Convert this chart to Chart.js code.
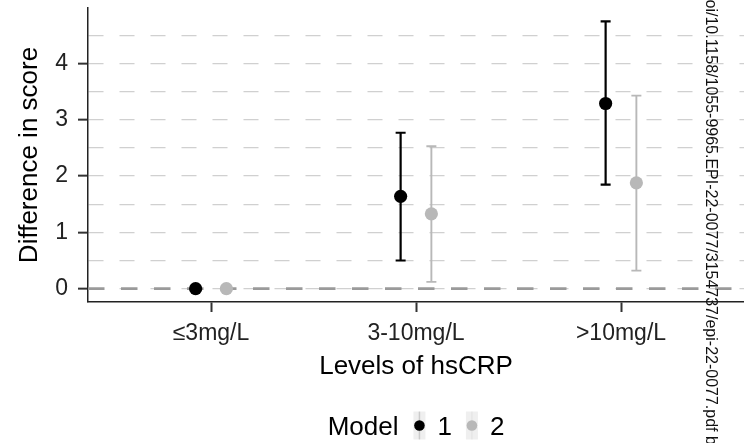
<!DOCTYPE html>
<html>
<head>
<meta charset="utf-8">
<script src="https://cdn.jsdelivr.net/npm/chart.js@4"></script>
<style>
  html, body { margin: 0; padding: 0; background: #fff; }
  canvas { display: block; }
</style>
</head>
<body>
<canvas id="chart" width="744" height="443"></canvas>
<script>
// hsCRP levels vs difference in score, two models with 95% CI

const categories = ["≤3mg/L", "3-10mg/L", ">10mg/L"];
const modelNames = ["1", "2"];

const model1Est = [0, 1.64, 3.29];
const model1Low = [0, 0.50, 1.85];
const model1High = [0, 2.77, 4.75];

const model2Est = [0, 1.33, 1.88];
const model2Low = [0, 0.12, 0.32];
const model2High = [0, 2.53, 3.43];

const yTickValues = [0, 0.5, 1, 1.5, 2, 2.5, 3, 3.5, 4, 4.5];

const FONT = "'Liberation Sans', Arial, sans-serif";
const DODGE = 0.075;

function toPoints(est, low, high, shift) {
    return categories.map((c, i) => ({ x: i + 1 + shift, y: est[i], lo: low[i], hi: high[i] }));
}

const errorBars = {
    id: "errorBars",
    beforeDatasetsDraw(chart) {
        const { ctx, chartArea, scales: { x, y } } = chart;
        ctx.save();
        // dashed reference line at zero
        const y0 = y.getPixelForValue(0);
        ctx.setLineDash([16.5, 16.5]);
        ctx.lineWidth = 2.6;
        ctx.strokeStyle = "#9a9a9a";
        ctx.beginPath();
        ctx.moveTo(chartArea.left, y0);
        ctx.lineTo(chartArea.right, y0);
        ctx.stroke();
        ctx.setLineDash([]);

        chart.data.datasets.forEach(ds => {
            ctx.strokeStyle = ds.backgroundColor;
            ctx.lineWidth = ds.errWidth;
            for (const p of ds.data) {
                const px = x.getPixelForValue(p.x);
                const top = y.getPixelForValue(p.hi);
                const bot = y.getPixelForValue(p.lo);
                ctx.beginPath();
                ctx.moveTo(px, top); ctx.lineTo(px, bot);
                ctx.moveTo(px - 5, top); ctx.lineTo(px + 5, top);
                ctx.moveTo(px - 5, bot); ctx.lineTo(px + 5, bot);
                ctx.stroke();
            }
        });
        ctx.restore();
    }
};

const bottomLegend = {
    id: "bottomLegend",
    afterDraw(chart) {
        const { ctx, chartArea } = chart;
        ctx.save();
        ctx.font = "26px " + FONT;
        ctx.textBaseline = "alphabetic";
        ctx.textAlign = "left";

        // lay out: title, then (key, label) pairs
        const wTitle = ctx.measureText("Model").width;
        const items = [];
        let pos = wTitle;
        modelNames.forEach((n, i) => {
            const kx = pos + (i === 0 ? 21 : 20);
            const lx = kx + 18;
            const w = ctx.measureText(n).width;
            items.push({ kx, lx });
            pos = lx + w;
        });
        const x0 = (chartArea.left + chartArea.right) / 2 - pos / 2;
        const base = 435, mid = 425.5;

        ctx.fillStyle = "#000";
        ctx.fillText("Model", x0, base);
        chart.data.datasets.forEach((ds, i) => {
            const kx = x0 + items[i].kx;
            ctx.fillStyle = "#efefef";
            ctx.fillRect(kx - 6, mid - 14, 12, 28);
            ctx.globalAlpha = 0.15;
            ctx.strokeStyle = ds.backgroundColor;
            ctx.lineWidth = 1.5;
            ctx.beginPath();
            ctx.moveTo(kx, mid - 14); ctx.lineTo(kx, mid + 14);
            ctx.stroke();
            ctx.globalAlpha = 1;
            ctx.fillStyle = ds.backgroundColor;
            ctx.beginPath();
            ctx.arc(kx, mid, 5.3, 0, Math.PI * 2);
            ctx.fill();
            ctx.fillStyle = "#000";
            ctx.fillText(modelNames[i], x0 + items[i].lx, base);
        });
        ctx.restore();
    }
};

const watermark = {
    id: "watermark",
    afterDraw(chart) {
        const { ctx } = chart;
        const prefix = "Downloaded from http://aacrjournals.org/cebp/article-pdf/doi/10.1158/1055-9965";
        const text = prefix + ".EPI-22-0077/3154737/epi-22-0077.pdf by guest";
        ctx.save();
        ctx.font = "16px " + FONT;
        ctx.fillStyle = "#111";
        ctx.textBaseline = "middle";
        ctx.textAlign = "left";
        ctx.translate(710.5, 154 - ctx.measureText(prefix).width);
        ctx.rotate(Math.PI / 2);
        ctx.fillText(text, 0, 0);
        ctx.restore();
    }
};

new Chart(document.getElementById("chart"), {
    type: "scatter",
    data: {
        datasets: [
            {
                label: "1",
                data: toPoints(model1Est, model1Low, model1High, -DODGE),
                backgroundColor: "#000000",
                errWidth: 2.2,
                pointRadius: 6.6,
                pointBorderWidth: 0
            },
            {
                label: "2",
                data: toPoints(model2Est, model2Low, model2High, DODGE),
                backgroundColor: "#b8b8b8",
                errWidth: 1.9,
                pointRadius: 6.6,
                pointBorderWidth: 0
            }
        ]
    },
    options: {
        responsive: false,
        animation: false,
        layout: { autoPadding: false, padding: { top: 8, right: 0, bottom: 0, left: 0 } },
        plugins: { legend: { display: false }, tooltip: { enabled: false } },
        scales: {
            x: {
                type: "linear",
                min: 0.4,
                max: 3.6,
                afterBuildTicks: s => { s.ticks = categories.map((c, i) => ({ value: i + 1 })); },
                afterFit: s => { s.height = 141; s.paddingLeft = 0; s.paddingRight = 0; },
                ticks: {
                    autoSkip: false,
                    maxRotation: 0,
                    padding: 8,
                    color: "#222",
                    font: { family: FONT, size: 23 },
                    callback: v => categories[Math.round(v) - 1]
                },
                grid: { drawOnChartArea: false, tickLength: 10, tickWidth: 2, tickColor: "#333", tickBorderDash: [] },
                border: { color: "#222", width: 1.5 },
                title: {
                    display: true,
                    text: "Levels of hsCRP",
                    color: "#000",
                    font: { family: FONT, size: 26 },
                    padding: { top: 0, bottom: 61 }
                }
            },
            y: {
                type: "linear",
                min: -0.2375,
                max: 4.9875,
                afterBuildTicks: s => { s.ticks = yTickValues.map(v => ({ value: v })); },
                afterFit: s => { s.width = 88; s.paddingTop = 0; s.paddingBottom = 0; },
                ticks: {
                    autoSkip: false,
                    padding: 10,
                    color: "#222",
                    font: { family: FONT, size: 23 },
                    callback: v => Number.isInteger(v) ? String(v) : ""
                },
                grid: {
                    color: "#d0d0d0",
                    lineWidth: 1.3,
                    tickLength: 10,
                    tickWidth: 2,
                    tickBorderDash: [],
                    tickColor: c => (c.tick && Number.isInteger(c.tick.value)) ? "#333" : "rgba(0,0,0,0)"
                },
                border: { color: "#222", width: 1.5, dash: [15, 16] },
                title: {
                    display: true,
                    text: "Difference in score",
                    color: "#000",
                    font: { family: FONT, size: 26 },
                    padding: { top: 14.4, bottom: 0 }
                }
            }
        }
    },
    plugins: [errorBars, bottomLegend, watermark]
});
</script>
</body>
</html>
